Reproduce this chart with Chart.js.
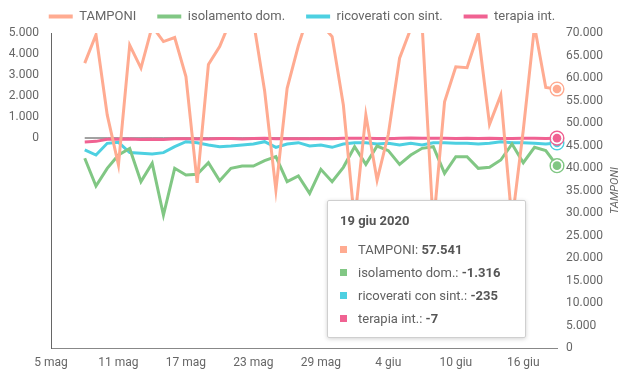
<!DOCTYPE html>
<html>
<head>
<meta charset="utf-8">
<script src="https://cdn.jsdelivr.net/npm/chart.js@4.4.0/dist/chart.umd.min.js"></script>
<style>
html,body{margin:0;padding:0;background:#fff;}
#wrap{position:relative;width:634px;height:380px;font-family:Roboto,sans-serif;}
#tt{position:absolute;left:327px;top:200px;width:199px;height:138px;box-sizing:border-box;background:#fff;border:1px solid #cfcfcf;border-radius:2px;box-shadow:0 1px 4px rgba(0,0,0,0.18);color:#616161;font-size:13px;}
#tt .title{position:absolute;left:12px;top:12px;line-height:16px;font-weight:bold;color:#555;}
#tt .row{position:absolute;left:0;height:23px;line-height:23px;white-space:nowrap;}
#tt .sq{position:absolute;left:12px;top:8px;width:7px;height:7px;}
#tt .txt{position:absolute;left:30px;top:0;}
#tt b{color:#555;}
</style>
</head>
<body>
<div id="wrap"><canvas id="c"></canvas><div id="tt"></div></div>
<script>
const categories = ['5 mag','6 mag','7 mag','8 mag','9 mag','10 mag','11 mag','12 mag','13 mag','14 mag','15 mag','16 mag','17 mag','18 mag','19 mag','20 mag','21 mag','22 mag','23 mag','24 mag','25 mag','26 mag','27 mag','28 mag','29 mag','30 mag','31 mag','1 giu','2 giu','3 giu','4 giu','5 giu','6 giu','7 giu','8 giu','9 giu','10 giu','11 giu','12 giu','13 giu','14 giu','15 giu','16 giu','17 giu','18 giu','19 giu'];
const year = '2020';
const seriesNames = ['TAMPONI','isolamento dom.','ricoverati con sint.','terapia int.'];
const axisTitle = 'TAMPONI';
const tamponi = [null,null,null,63300,69600,51800,40700,67300,62200,71500,68100,69000,60300,36700,63000,67000,73000,75000,72700,57100,35100,57700,67200,75000,72000,69200,54000,28000,51800,37300,47500,64400,71000,72000,27000,54700,62500,62300,69900,49700,56200,28000,48400,71500,57900,57541];
const isolamento = [null,null,null,-967,-2286,-1444,-810,-500,-2079,-1206,-3667,-1444,-1762,-1730,-1175,-2032,-1444,-1333,-1333,-1079,-889,-2079,-1810,-2635,-1492,-2079,-1397,-413,-1254,-381,-603,-1254,-810,-492,-413,-1683,-889,-889,-1444,-1397,-1048,-286,-1175,-444,-603,-1316];
const ricoverati = [null,null,null,-571,-810,-254,-206,-690,-730,-762,-698,-413,-175,-222,-333,-413,-381,-333,-286,-175,-444,-286,-222,-381,-333,-444,-286,-222,-222,-286,-254,-333,-254,-333,-222,-222,-254,-254,-286,-254,-175,-222,-222,-254,-286,-235];
const terapia = [null,null,null,-185,-160,-61,-59,-47,-70,-58,-74,-35,-33,-44,-46,-29,-26,-42,-20,-13,-32,-36,-32,-34,-25,-33,-15,-16,-11,-25,-32,-9,-4,-16,-16,-14,-26,-10,-28,-11,-18,-27,-13,-7,-20,-7];
const zeroLine = tamponi.map(v => v === null ? null : 0);
const leftTicks = {min:-10000, max:5000, step:1000};
const rightTicks = {min:0, max:70000, step:5000};
const colors = ['#FFAB91','#81C784','#4DD0E1','#F06292'];

function fmt(v){
  const s = Math.abs(Math.round(v)).toString().replace(/\B(?=(\d{3})+(?!\d))/g,'.');
  return (v < 0 ? '-' : '') + s;
}

Chart.defaults.font.family = 'Roboto';
Chart.defaults.color = '#666';

const legendFix = {
  id:'legendFix',
  beforeLayout(chart){
    const lg = chart.legend;
    if (lg && !lg._patched){
      const f = lg.fit;
      lg.fit = function(){ f.call(this); this.height = 33; };
      lg._patched = true;
    }
  },
  afterLayout(chart){
    const lg = chart.legend;
    lg.left = 0; lg.right = 604; lg.top = -11; lg.bottom = 33;
  }
};

const rightTitle = {
  id:'rightTitle',
  afterDraw(chart){
    const s = chart.scales.y1, ctx = chart.ctx, a = chart.chartArea;
    ctx.save();
    ctx.translate(s.right - 19, (a.top + a.bottom)/2);
    ctx.rotate(-Math.PI/2);
    ctx.font = 'italic 11px Roboto';
    ctx.fillStyle = '#666';
    ctx.textAlign = 'center';
    ctx.textBaseline = 'middle';
    ctx.fillText(axisTitle, 0, 0);
    ctx.restore();
  }
};

const lastMarkers = {
  id:'lastMarkers',
  afterDatasetsDraw(chart){
    const ctx = chart.ctx;
    for (let i = 0; i < 4; i++){
      const meta = chart.getDatasetMeta(i);
      const el = meta.data[meta.data.length - 1];
      if (!el) continue;
      ctx.save();
      ctx.beginPath(); ctx.arc(el.x, el.y, 6.8, 0, Math.PI*2);
      ctx.strokeStyle = colors[i]; ctx.lineWidth = 1.5; ctx.stroke();
      ctx.beginPath(); ctx.arc(el.x, el.y, 6, 0, Math.PI*2);
      ctx.fillStyle = '#fff'; ctx.fill();
      ctx.beginPath(); ctx.arc(el.x, el.y, 4.3, 0, Math.PI*2);
      ctx.fillStyle = colors[i]; ctx.fill();
      ctx.restore();
    }
  }
};

function ds(label, data, color, axis){
  return {label, data, borderColor:color, backgroundColor:color, borderWidth:3, pointRadius:0, pointHoverRadius:0, tension:0, yAxisID:axis, spanGaps:false};
}

new Chart(document.getElementById('c'), {
  type:'line',
  data:{
    labels:categories,
    datasets:[
      ds(seriesNames[0], tamponi, colors[0], 'y1'),
      ds(seriesNames[1], isolamento, colors[1], 'y'),
      ds(seriesNames[2], ricoverati, colors[2], 'y'),
      ds(seriesNames[3], terapia, colors[3], 'y'),
      {label:'zero', data:zeroLine, borderColor:'#444', borderWidth:1, pointRadius:0, yAxisID:'y'}
    ]
  },
  options:{
    responsive:true, maintainAspectRatio:false, animation:false,
    layout:{padding:0},
    events:[],
    plugins:{
      tooltip:{enabled:false},
      legend:{
        position:'top',
        labels:{
          boxWidth:24, boxHeight:4, padding:21, color:'#666',
          font:{size:13},
          filter:(item) => item.datasetIndex < 4,
          generateLabels(chart){
            return Chart.defaults.plugins.legend.labels.generateLabels(chart).map(it => Object.assign(it, {fillStyle: it.strokeStyle, lineWidth: 0}));
          }
        }
      }
    },
    scales:{
      x:{
        type:'category',
        grid:{display:false, drawTicks:false},
        border:{display:true, color:'#888', width:1},
        ticks:{autoSkip:false, maxRotation:0, padding:8, font:{size:12}, color:'#666',
          callback:(v, idx) => idx % 6 === 0 ? categories[idx] : ''},
        afterFit(s){ s.height = 32; }
      },
      y:{
        position:'left', min:leftTicks.min, max:leftTicks.max,
        grid:{display:false, drawTicks:false},
        border:{display:true, color:'#666', width:1},
        ticks:{stepSize:leftTicks.step, padding:12, font:{size:12}, color:'#666',
          callback:(v) => v < 0 ? '' : fmt(v)},
        afterFit(s){ s.width = 51; }
      },
      y1:{
        position:'right', min:rightTicks.min, max:rightTicks.max,
        grid:{display:false, drawTicks:false},
        border:{display:false},
        ticks:{stepSize:rightTicks.step, padding:9, font:{size:12}, color:'#666',
          callback:(v) => fmt(v)},
        afterFit(s){ s.width = 77; }
      }
    }
  },
  plugins:[legendFix, rightTitle, lastMarkers]
});

// tooltip box (values of the last day)
const li = categories.length - 1;
const vals = [tamponi[li], isolamento[li], ricoverati[li], terapia[li]];
let html = '<div class="title">' + categories[li] + ' ' + year + '</div>';
vals.forEach((v, i) => {
  html += '<div class="row" style="top:' + (36.5 + i*23.3) + 'px"><div class="sq" style="background:' + colors[i] + '"></div><div class="txt">' + seriesNames[i] + ': <b>' + fmt(v) + '</b></div></div>';
});
document.getElementById('tt').innerHTML = html;
</script>
</body>
</html>
